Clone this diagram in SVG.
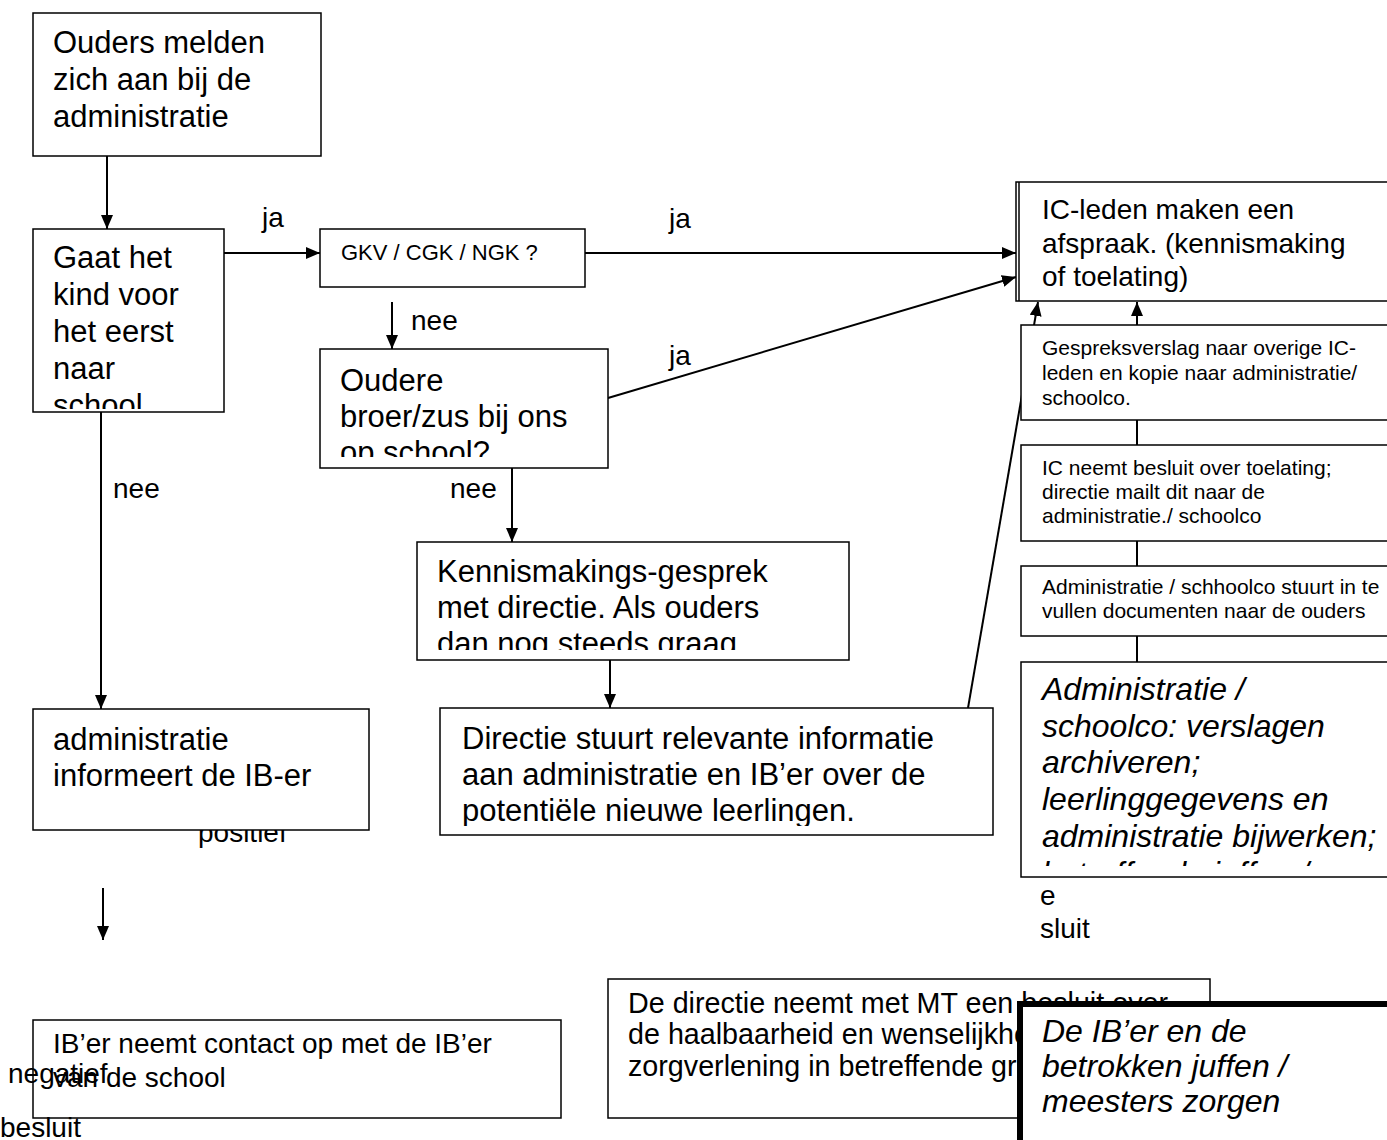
<svg xmlns="http://www.w3.org/2000/svg" width="1387" height="1140" viewBox="0 0 1387 1140">
<style>
text{font-family:"Liberation Sans",Arial,sans-serif;fill:#000}
.b{fill:#fff;stroke:#000;stroke-width:1.5}
.t31{font-size:31px}
.t32{font-size:32px}
.t28{font-size:28px}
.t21{font-size:21px}
.t22{font-size:22px}
.i{font-style:italic}
.c{stroke:#000;stroke-width:2;fill:none}
</style>
<defs>
<marker id="ah2" viewBox="0 0 14 12" refX="14" refY="6" markerWidth="14" markerHeight="12" markerUnits="userSpaceOnUse" orient="auto"><path d="M0,0 L14,6 L0,12 z" fill="#000"/></marker>
<clipPath id="c2"><rect x="33" y="229" width="191" height="180"/></clipPath>
<clipPath id="c4"><rect x="320" y="349" width="288" height="108"/></clipPath>
<clipPath id="c5"><rect x="417" y="542" width="432" height="108"/></clipPath>
<clipPath id="c6"><rect x="440" y="708" width="553" height="118"/></clipPath>
<clipPath id="c12"><rect x="1021" y="662" width="400" height="204"/></clipPath>
<clipPath id="c14"><rect x="608" y="980" width="602" height="138"/></clipPath>
</defs>

<g id="labels">
<text class="t28" x="198" y="842">positief</text>
</g>

<g id="connectors">
<line class="c" x1="107" y1="156" x2="107" y2="229" marker-end="url(#ah2)"/>
<line class="c" x1="224" y1="253" x2="320" y2="253" marker-end="url(#ah2)"/>
<line class="c" x1="585" y1="253" x2="1016" y2="253" marker-end="url(#ah2)"/>
<line class="c" x1="392" y1="302" x2="392" y2="349" marker-end="url(#ah2)"/>
<line class="c" x1="608" y1="398" x2="1016" y2="277" marker-end="url(#ah2)"/>
<line class="c" x1="512" y1="468" x2="512" y2="542" marker-end="url(#ah2)"/>
<line class="c" x1="610" y1="660" x2="610" y2="708" marker-end="url(#ah2)"/>
<line class="c" x1="101" y1="409" x2="101" y2="709" marker-end="url(#ah2)"/>
<line class="c" x1="103" y1="888" x2="103" y2="940" marker-end="url(#ah2)"/>
<line class="c" x1="968" y1="708" x2="1038" y2="302" marker-end="url(#ah2)"/>
<line class="c" x1="1137" y1="325" x2="1137" y2="302" marker-end="url(#ah2)"/>
<line class="c" x1="1137" y1="420" x2="1137" y2="445"/>
<line class="c" x1="1137" y1="541" x2="1137" y2="566"/>
<line class="c" x1="1137" y1="636" x2="1137" y2="662"/>
<text class="t28" x="262" y="227">ja</text>
<text class="t28" x="669" y="228">ja</text>
<text class="t28" x="411" y="330">nee</text>
<text class="t28" x="669" y="365">ja</text>
<text class="t28" x="450" y="498">nee</text>
<text class="t28" x="113" y="498">nee</text>
</g>

<g id="n1">
<rect class="b" x="33" y="13" width="288" height="143"/>
<text class="t31" x="53"><tspan x="53" y="53">Ouders melden</tspan><tspan x="53" y="90">zich aan bij de</tspan><tspan x="53" y="127">administratie</tspan></text>
</g>

<g id="n2">
<rect class="b" x="33" y="229" width="191" height="183"/>
<text class="t31" clip-path="url(#c2)"><tspan x="53" y="268">Gaat het</tspan><tspan x="53" y="305">kind voor</tspan><tspan x="53" y="342">het eerst</tspan><tspan x="53" y="379">naar</tspan><tspan x="53" y="416">school</tspan></text>
</g>

<g id="n3">
<rect class="b" x="320" y="229" width="265" height="58"/>
<text class="t22" x="341" y="260">GKV / CGK / NGK ?</text>
</g>

<g id="n4">
<rect class="b" x="320" y="349" width="288" height="119"/>
<text class="t31" clip-path="url(#c4)"><tspan x="340" y="391">Oudere</tspan><tspan x="340" y="427">broer/zus bij ons</tspan><tspan x="340" y="463">op school?</tspan></text>
</g>

<g id="n5">
<rect class="b" x="417" y="542" width="432" height="118"/>
<text class="t31" clip-path="url(#c5)"><tspan x="437" y="582">Kennismakings-gesprek</tspan><tspan x="437" y="618">met directie. Als ouders</tspan><tspan x="437" y="654">dan nog steeds graag</tspan></text>
</g>

<g id="n6">
<rect class="b" x="440" y="708" width="553" height="127"/>
<text class="t31" clip-path="url(#c6)"><tspan x="462" y="749">Directie stuurt relevante informatie</tspan><tspan x="462" y="785">aan administratie en IB’er over de</tspan><tspan x="462" y="821">potentiële nieuwe leerlingen.</tspan></text>
</g>

<g id="n7">
<rect class="b" x="33" y="709" width="336" height="121"/>
<text class="t31"><tspan x="53" y="750">administratie</tspan><tspan x="53" y="786">informeert de IB-er</tspan></text>
</g>

<g id="n8">
<rect class="b" x="1016" y="182" width="390" height="119"/>
<line x1="1019" y1="182" x2="1019" y2="301" stroke="#000" stroke-width="1.5"/>
<text class="t28"><tspan x="1042" y="219">IC-leden maken een</tspan><tspan x="1042" y="253">afspraak. (kennismaking</tspan><tspan x="1042" y="286">of toelating)</tspan></text>
</g>

<g id="n9">
<rect class="b" x="1021" y="325" width="390" height="95"/>
<text class="t21"><tspan x="1042" y="355">Gespreksverslag naar overige IC-</tspan><tspan x="1042" y="380">leden en kopie naar administratie/</tspan><tspan x="1042" y="405">schoolco.</tspan></text>
</g>

<g id="n10">
<rect class="b" x="1021" y="445" width="390" height="96"/>
<text class="t21"><tspan x="1042" y="475">IC neemt besluit over toelating;</tspan><tspan x="1042" y="499">directie mailt dit naar de</tspan><tspan x="1042" y="523">administratie./ schoolco</tspan></text>
</g>

<g id="n11">
<rect class="b" x="1021" y="566" width="390" height="70"/>
<text class="t21"><tspan x="1042" y="594">Administratie / schhoolco stuurt in te</tspan><tspan x="1042" y="618">vullen documenten naar de ouders</tspan></text>
</g>

<g id="n12">
<rect class="b" x="1021" y="662" width="390" height="215"/>
<text class="t32 i" clip-path="url(#c12)"><tspan x="1042" y="700">Administratie /</tspan><tspan x="1042" y="737">schoolco: verslagen</tspan><tspan x="1042" y="773">archiveren;</tspan><tspan x="1042" y="810">leerlinggegevens en</tspan><tspan x="1042" y="847">administratie bijwerken;</tspan><tspan x="1042" y="884">betreffende juffen /</tspan></text>
</g>

<g id="n13">
<text class="t28" x="1040" y="905">e</text>
<text class="t28" x="1040" y="938">sluit</text>
</g>

<g id="n14">
<rect class="b" x="33" y="1020" width="528" height="98"/>
<text class="t28"><tspan x="53" y="1053">IB’er neemt contact op met de IB’er</tspan><tspan x="53" y="1087">van de school</tspan></text>
<text class="t28" x="8" y="1083">negatief</text>
<text class="t28" x="0" y="1137">besluit</text>
</g>

<g id="n15">
<rect class="b" x="608" y="979" width="602" height="139"/>
<text style="font-size:28.7px" clip-path="url(#c14)"><tspan x="628" y="1013">De directie neemt met MT een besluit over</tspan><tspan x="628" y="1044">de haalbaarheid en wenselijkheid van</tspan><tspan x="628" y="1076">zorgverlening in betreffende groep</tspan></text>
</g>

<g id="n16">
<rect x="1020" y="1004" width="400" height="160" fill="#fff" stroke="#000" stroke-width="6"/>
<text class="t32 i"><tspan x="1042" y="1042">De IB’er en de</tspan><tspan x="1042" y="1077">betrokken juffen /</tspan><tspan x="1042" y="1112">meesters  zorgen</tspan></text>
</g>
</svg>
